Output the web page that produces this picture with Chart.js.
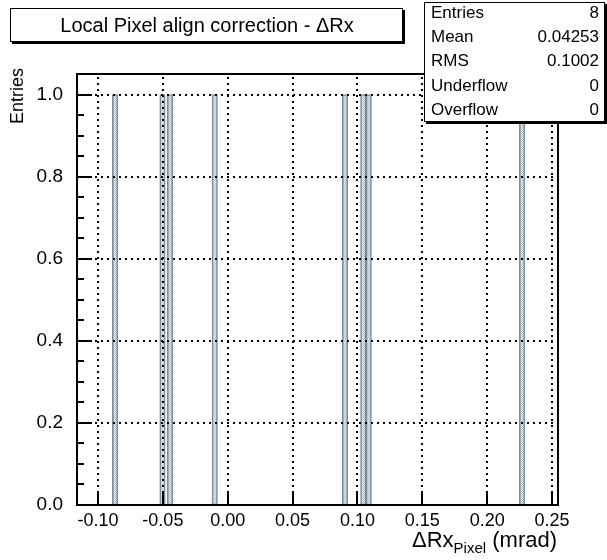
<!DOCTYPE html>
<html><head><meta charset="utf-8">
<script src="https://cdn.jsdelivr.net/npm/chart.js@4"></script>
<style>html,body{margin:0;padding:0;background:#fff}canvas{display:block}</style>
</head><body>
<div style="width:607px;height:560px"><canvas id="c" width="607" height="560"></canvas></div>
<script>
const titleText = 'Local Pixel align correction - \u0394Rx';
const binCenters = [-0.0869, -0.0503, -0.0445, -0.0100, 0.0904, 0.1045, 0.1087, 0.2269];
const binCounts = [1, 1, 1, 1, 1, 1, 1, 1];
const xTickValues = [-0.10, -0.05, 0.00, 0.05, 0.10, 0.15, 0.20, 0.25];
const yTickValues = [0.0, 0.2, 0.4, 0.6, 0.8, 1.0];
const yMinorValues = [0.05, 0.1, 0.15, 0.25, 0.3, 0.35, 0.45, 0.5, 0.55, 0.65, 0.7, 0.75, 0.85, 0.9, 0.95];
const xRange = [-0.1162, 0.2546];
const yRange = [0, 1.05];
const statsLabels = ['Entries', 'Mean', 'RMS', 'Underflow', 'Overflow'];
const statsValues = ['8', '0.04253', '0.1002', '0', '0'];
const yTitle = 'Entries';
const xTitleMain = '\u0394Rx';
const xTitleSub = 'Pixel';
const xTitleTail = ' (mrad)';

const FONT = '"Liberation Sans", Arial, Helvetica, sans-serif';
const canvas = document.getElementById('c');
const ctx = canvas.getContext('2d');

function makePattern() {
  const p = document.createElement('canvas');
  p.width = 2; p.height = 2;
  const g = p.getContext('2d');
  g.fillStyle = '#eef2f5'; g.fillRect(0, 0, 2, 2);
  g.fillStyle = '#b0bdc8'; g.fillRect(0, 0, 1, 1); g.fillRect(1, 1, 1, 1);
  return ctx.createPattern(p, 'repeat');
}

const decorPlugin = {
  id: 'decor',
  afterDatasetsDraw(chart) {
    const c = chart.ctx, a = chart.chartArea;
    const xs = chart.scales.x, ys = chart.scales.y;
    c.save();
    // dotted grid
    c.strokeStyle = '#000';
    c.lineWidth = 2;
    c.setLineDash([2, 4]);
    xTickValues.forEach(v => {
      const px = Math.round(xs.getPixelForValue(v));
      c.beginPath(); c.moveTo(px, a.bottom); c.lineTo(px, a.top); c.stroke();
    });
    yTickValues.forEach(v => {
      if (v === 0) return;
      const py = Math.round(ys.getPixelForValue(v));
      c.beginPath(); c.moveTo(a.left, py); c.lineTo(a.right, py); c.stroke();
    });
    c.setLineDash([]);
    // tick marks
    c.lineWidth = 2;
    xTickValues.forEach(v => {
      const px = Math.round(xs.getPixelForValue(v));
      c.beginPath(); c.moveTo(px, a.bottom); c.lineTo(px, a.bottom - 13); c.stroke();
    });
    yTickValues.forEach(v => {
      const py = Math.round(ys.getPixelForValue(v));
      c.beginPath(); c.moveTo(a.left, py); c.lineTo(a.left + 15, py); c.stroke();
    });
    yMinorValues.forEach(v => {
      const py = Math.round(ys.getPixelForValue(v));
      c.beginPath(); c.moveTo(a.left, py); c.lineTo(a.left + 7, py); c.stroke();
    });
    // frame
    c.lineWidth = 2;
    c.strokeRect(a.left, a.top, a.right - a.left, a.bottom - a.top);
    c.restore();
  },
  afterDraw(chart) {
    const c = chart.ctx;
    c.save();
    // title box
    c.fillStyle = '#000';
    c.fillRect(12, 10, 393, 34);
    c.fillStyle = '#fff';
    c.fillRect(10, 8, 393, 34);
    c.strokeStyle = '#000'; c.lineWidth = 1;
    c.strokeRect(10.5, 8.5, 392, 33);
    c.fillStyle = '#000';
    c.font = '20px ' + FONT;
    c.textAlign = 'center'; c.textBaseline = 'middle';
    c.fillText(titleText, 207, 26);
    // stats box
    c.fillStyle = '#000';
    c.fillRect(426, 4, 181, 120);
    c.fillStyle = '#fff';
    c.fillRect(424, 2, 181, 120);
    c.strokeStyle = '#000'; c.lineWidth = 1;
    c.strokeRect(424.5, 2.5, 180, 119);
    c.fillStyle = '#000';
    c.font = '17px ' + FONT;
    c.textBaseline = 'middle';
    statsLabels.forEach((l, i) => {
      const y = 13 + i * 24.3;
      c.textAlign = 'left'; c.fillText(l, 431, y);
      c.textAlign = 'right'; c.fillText(statsValues[i], 599, y);
    });
    // y title
    c.save();
    c.translate(18, 68);
    c.rotate(-Math.PI / 2);
    c.font = '18px ' + FONT;
    c.textAlign = 'right'; c.textBaseline = 'middle';
    c.fillText(yTitle, 0, 0);
    c.restore();
    // x title
    const fMain = '22px ' + FONT, fSub = '15px ' + FONT;
    c.font = fMain; const w1 = c.measureText(xTitleMain).width; const w3 = c.measureText(xTitleTail).width;
    c.font = fSub; const w2 = c.measureText(xTitleSub).width;
    const x0 = 557 - (w1 + w2 + w3);
    const yb = 547;
    c.textAlign = 'left'; c.textBaseline = 'alphabetic';
    c.font = fMain; c.fillText(xTitleMain, x0, yb);
    c.font = fSub; c.fillText(xTitleSub, x0 + w1, yb + 6);
    c.font = fMain; c.fillText(xTitleTail, x0 + w1 + w2, yb);
    c.restore();
  }
};

new Chart(ctx, {
  type: 'bar',
  data: {
    datasets: [{
      data: binCenters.map((x, i) => ({ x: x, y: binCounts[i] })),
      backgroundColor: makePattern(),
      borderColor: '#7e8d9a',
      borderWidth: 1.6,
      borderSkipped: false,
      barPercentage: 1.0,
      categoryPercentage: 1.0
    }]
  },
  options: {
    responsive: false,
    animation: false,
    events: [],
    layout: { padding: { top: 74, right: 49, left: 0, bottom: 0 } },
    plugins: { legend: { display: false }, tooltip: { enabled: false }, title: { display: false } },
    scales: {
      x: {
        type: 'linear', min: xRange[0], max: xRange[1], offset: false,
        grid: { display: false, drawTicks: false, offset: false },
        border: { display: false },
        afterBuildTicks: s => { s.ticks = xTickValues.map(v => ({ value: v })); },
        afterFit: s => { s.height = 55; },
        ticks: {
          autoSkip: false, maxRotation: 0, padding: 5, color: '#000',
          font: { family: FONT, size: 18 },
          callback: v => (Math.abs(v) < 1e-9 ? 0 : v).toFixed(2)
        }
      },
      y: {
        min: yRange[0], max: yRange[1],
        grid: { display: false, drawTicks: false },
        border: { display: false },
        afterBuildTicks: s => { s.ticks = yTickValues.map(v => ({ value: v })); },
        afterFit: s => { s.width = 77; },
        ticks: {
          autoSkip: false, padding: 14, color: '#000',
          font: { family: FONT, size: 19 },
          callback: v => v.toFixed(1)
        }
      }
    }
  },
  plugins: [decorPlugin]
});
</script>
</body></html>
